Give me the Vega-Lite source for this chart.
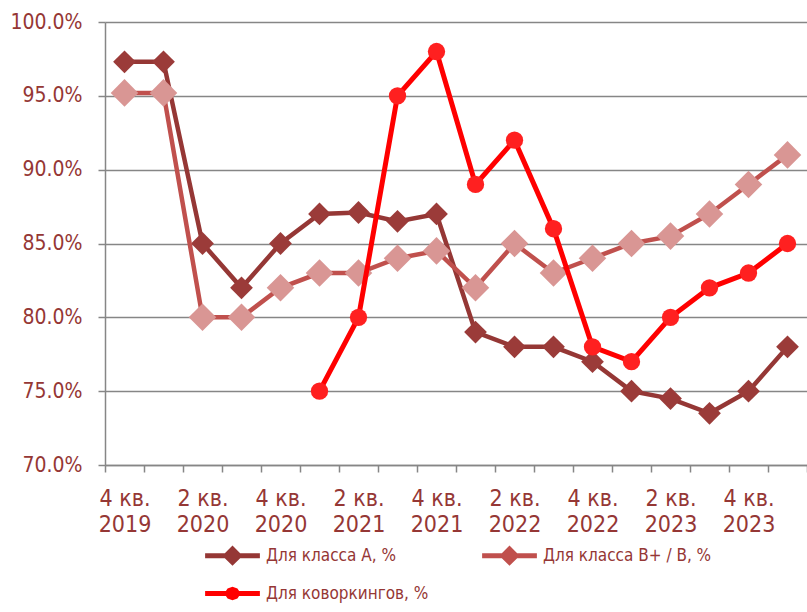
{
  "$schema": "https://vega.github.io/schema/vega-lite/v6.json",
  "autosize": "none",
  "width": 702,
  "height": 443,
  "padding": {"left": 105, "top": 22, "right": 0, "bottom": 147},
  "background": "white",
  "data": {"values": [
    {"q": "4 кв. 2019", "s": "Для класса А, %", "v": 97.3},
    {"q": "1 кв. 2020", "s": "Для класса А, %", "v": 97.3},
    {"q": "2 кв. 2020", "s": "Для класса А, %", "v": 85.0},
    {"q": "3 кв. 2020", "s": "Для класса А, %", "v": 82.0},
    {"q": "4 кв. 2020", "s": "Для класса А, %", "v": 85.0},
    {"q": "1 кв. 2021", "s": "Для класса А, %", "v": 87.0},
    {"q": "2 кв. 2021", "s": "Для класса А, %", "v": 87.1},
    {"q": "3 кв. 2021", "s": "Для класса А, %", "v": 86.5},
    {"q": "4 кв. 2021", "s": "Для класса А, %", "v": 87.0},
    {"q": "1 кв. 2022", "s": "Для класса А, %", "v": 79.0},
    {"q": "2 кв. 2022", "s": "Для класса А, %", "v": 78.0},
    {"q": "3 кв. 2022", "s": "Для класса А, %", "v": 78.0},
    {"q": "4 кв. 2022", "s": "Для класса А, %", "v": 77.0},
    {"q": "1 кв. 2023", "s": "Для класса А, %", "v": 75.0},
    {"q": "2 кв. 2023", "s": "Для класса А, %", "v": 74.5},
    {"q": "3 кв. 2023", "s": "Для класса А, %", "v": 73.5},
    {"q": "4 кв. 2023", "s": "Для класса А, %", "v": 75.0},
    {"q": "1 кв. 2024", "s": "Для класса А, %", "v": 78.0},
    {"q": "4 кв. 2019", "s": "Для класса В+ / В, %", "v": 95.2},
    {"q": "1 кв. 2020", "s": "Для класса В+ / В, %", "v": 95.2},
    {"q": "2 кв. 2020", "s": "Для класса В+ / В, %", "v": 80.0},
    {"q": "3 кв. 2020", "s": "Для класса В+ / В, %", "v": 80.0},
    {"q": "4 кв. 2020", "s": "Для класса В+ / В, %", "v": 82.0},
    {"q": "1 кв. 2021", "s": "Для класса В+ / В, %", "v": 83.0},
    {"q": "2 кв. 2021", "s": "Для класса В+ / В, %", "v": 83.0},
    {"q": "3 кв. 2021", "s": "Для класса В+ / В, %", "v": 84.0},
    {"q": "4 кв. 2021", "s": "Для класса В+ / В, %", "v": 84.5},
    {"q": "1 кв. 2022", "s": "Для класса В+ / В, %", "v": 82.0},
    {"q": "2 кв. 2022", "s": "Для класса В+ / В, %", "v": 85.0},
    {"q": "3 кв. 2022", "s": "Для класса В+ / В, %", "v": 83.0},
    {"q": "4 кв. 2022", "s": "Для класса В+ / В, %", "v": 84.0},
    {"q": "1 кв. 2023", "s": "Для класса В+ / В, %", "v": 85.0},
    {"q": "2 кв. 2023", "s": "Для класса В+ / В, %", "v": 85.5},
    {"q": "3 кв. 2023", "s": "Для класса В+ / В, %", "v": 87.0},
    {"q": "4 кв. 2023", "s": "Для класса В+ / В, %", "v": 89.0},
    {"q": "1 кв. 2024", "s": "Для класса В+ / В, %", "v": 91.0},
    {"q": "1 кв. 2021", "s": "Для коворкингов, %", "v": 75.0},
    {"q": "2 кв. 2021", "s": "Для коворкингов, %", "v": 80.0},
    {"q": "3 кв. 2021", "s": "Для коворкингов, %", "v": 95.0},
    {"q": "4 кв. 2021", "s": "Для коворкингов, %", "v": 98.0},
    {"q": "1 кв. 2022", "s": "Для коворкингов, %", "v": 89.0},
    {"q": "2 кв. 2022", "s": "Для коворкингов, %", "v": 92.0},
    {"q": "3 кв. 2022", "s": "Для коворкингов, %", "v": 86.0},
    {"q": "4 кв. 2022", "s": "Для коворкингов, %", "v": 78.0},
    {"q": "1 кв. 2023", "s": "Для коворкингов, %", "v": 77.0},
    {"q": "2 кв. 2023", "s": "Для коворкингов, %", "v": 80.0},
    {"q": "3 кв. 2023", "s": "Для коворкингов, %", "v": 82.0},
    {"q": "4 кв. 2023", "s": "Для коворкингов, %", "v": 83.0},
    {"q": "1 кв. 2024", "s": "Для коворкингов, %", "v": 85.0}
  ]},
  "encoding": {
    "x": {
      "field": "q", "type": "nominal", "sort": null,
      "scale": {"type": "band", "paddingInner": 0, "paddingOuter": 0},
      "axis": {
        "title": null, "labelAngle": 0, "grid": false,
        "domainColor": "#868686", "domainWidth": 1.5,
        "ticks": true, "tickBand": "extent", "tickSize": 7, "tickColor": "#868686", "tickWidth": 1.5,
        "labelFont": "DejaVu Sans Condensed", "labelFontSize": 23, "labelColor": "#953735",
        "labelLineHeight": 26, "labelPadding": 15,
        "labelExpr": "isString(datum.value) && (substring(datum.value,0,1)=='4' || substring(datum.value,0,1)=='2') ? [substring(datum.value,0,5), substring(datum.value,6)] : ''"
      }
    },
    "y": {
      "field": "v", "type": "quantitative",
      "scale": {"domain": [70, 100], "nice": false, "zero": false},
      "axis": {
        "title": null, "values": [70, 75, 80, 85, 90, 95, 100],
        "grid": true, "gridColor": "#868686", "gridWidth": 1.5,
        "domainColor": "#868686", "domainWidth": 1.5,
        "tickSize": 7, "tickColor": "#868686", "tickWidth": 1.5,
        "labelFont": "DejaVu Sans Condensed", "labelFontSize": 21, "labelColor": "#953735",
        "labelPadding": 16, "format": ".1f",
        "labelExpr": "datum.label + '%'"
      }
    }
  },
  "layer": [
    {
      "transform": [{"filter": "datum.s == 'Для класса А, %'"}],
      "mark": {"type": "line", "color": "#953735", "strokeWidth": 4.5,
        "point": {"shape": "diamond", "size": 520, "filled": true, "color": "#9b3b39", "opacity": 1}}
    },
    {
      "transform": [{"filter": "datum.s == 'Для класса В+ / В, %'"}],
      "mark": {"type": "line", "color": "#C0504D", "strokeWidth": 4.5,
        "point": {"shape": "diamond", "size": 760, "filled": true, "color": "#D99694", "opacity": 1}}
    },
    {
      "transform": [{"filter": "datum.s == 'Для коворкингов, %'"}],
      "mark": {"type": "line", "color": "#FF0000", "strokeWidth": 5,
        "point": {"shape": "circle", "size": 300, "filled": true, "color": "#ff2020", "opacity": 1}}
    },
    {
      "mark": {"type": "point", "filled": true, "opacity": 0},
      "encoding": {
        "color": {
          "field": "s", "type": "nominal",
          "scale": {"domain": ["Для класса А, %", "Для класса В+ / В, %", "Для коворкингов, %"],
                    "range": ["#953735", "#C0504D", "#FF0000"]},
          "legend": {
            "title": null, "orient": "none", "legendX": 100, "legendY": 506,
            "direction": "horizontal", "columns": 2, "columnPadding": 53, "rowPadding": -11,
            "symbolSize": 3000, "symbolOpacity": 1, "symbolStrokeWidth": 0,
            "labelFont": "DejaVu Sans Condensed", "labelFontSize": 17, "labelColor": "#953735",
            "labelOffset": 6, "labelLimit": 300
          }
        },
        "shape": {
          "field": "s", "type": "nominal",
          "scale": {"domain": ["Для класса А, %", "Для класса В+ / В, %", "Для коворкингов, %"],
                    "range": [
                      "M-1,-0.09H-0.28L0,-0.37L0.28,-0.09H1V0.09H0.28L0,0.37L-0.28,0.09H-1Z",
                      "M-1,-0.09H-0.28L0,-0.37L0.28,-0.09H1V0.09H0.28L0,0.37L-0.28,0.09H-1Z",
                      "M-1,-0.09H-0.24L-0.18,-0.18L0,-0.25L0.18,-0.18L0.24,-0.09H1V0.09H0.24L0.18,0.18L0,0.25L-0.18,0.18L-0.24,0.09H-1Z"
                    ]},
          "legend": null
        }
      }
    }
  ],
  "config": {"view": {"stroke": null}}
}
